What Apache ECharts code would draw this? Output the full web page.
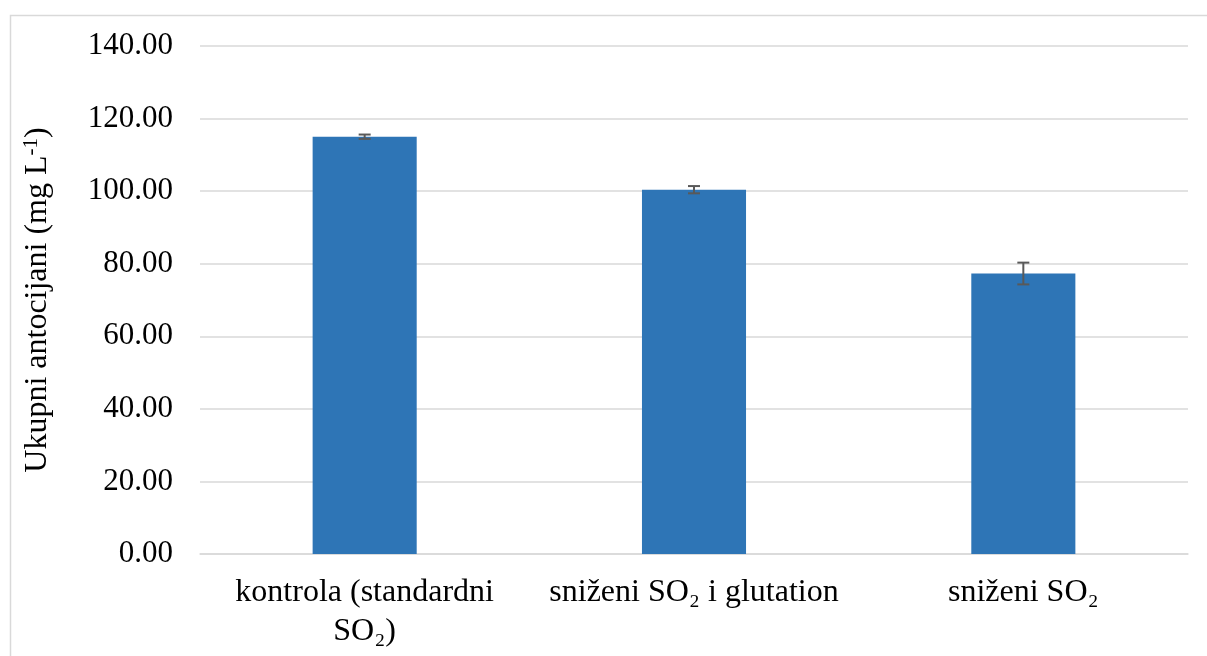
<!DOCTYPE html>
<html>
<head>
<meta charset="utf-8">
<script src="https://cdn.jsdelivr.net/npm/echarts@6/dist/echarts.min.js"></script>
<style>
html,body{margin:0;padding:0;background:#fff;}
#c{width:1207px;height:656px;}
</style>
</head>
<body>
<div id="c"></div>
<script>
const categories = ['kontrola (standardni\nSO₂)', 'sniženi SO₂ i glutation', 'sniženi SO₂'];
const values = [115.0, 100.4, 77.3];
const errors = [0.6, 1.0, 3.0];
const yTicks = [0, 20, 40, 60, 80, 100, 120, 140];

const chart = echarts.init(document.getElementById('c'));
const font = '"Liberation Serif", "Times New Roman", serif';
chart.setOption({
  animation: false,
  backgroundColor: '#fff',
  graphic: [{
    type: 'rect', left: 8, top: 13,
    shape: {width: 1230, height: 700},
    style: {fill: 'none', stroke: '#d9d9d9', lineWidth: 1.5}
  }],
  grid: {left: 200, right: 19, top: 46, bottom: 102},
  xAxis: {
    type: 'category',
    data: categories,
    axisLine: {lineStyle: {color: '#d9d9d9', width: 1.5}},
    axisTick: {show: false},
    axisLabel: {
      color: '#000', fontFamily: font, fontSize: 32, lineHeight: 39, margin: 19, interval: 0
    }
  },
  yAxis: {
    type: 'value',
    min: yTicks[0], max: yTicks[yTicks.length - 1], interval: 20,
    name: '{n|Ukupni antocijani (mg L}{s|-1}{n|)}',
    nameLocation: 'middle',
    nameGap: 146,
    nameRotate: 90,
    nameTextStyle: {
      rich: {
        n: {fontFamily: font, fontSize: 32, color: '#000'},
        s: {fontFamily: font, fontSize: 21, color: '#000', verticalAlign: 'top', padding: [0,0,12,0]}
      }
    },
    axisLine: {show: false},
    axisTick: {show: false},
    splitLine: {lineStyle: {color: '#d9d9d9', width: 1.5}},
    axisLabel: {
      color: '#000', fontFamily: font, fontSize: 31, margin: 27,
      formatter: v => v.toFixed(2)
    }
  },
  series: [{
    type: 'bar',
    data: values,
    barWidth: '31.6%',
    itemStyle: {color: '#2e75b6'}
  }, {
    type: 'custom',
    data: values.map((v, i) => [i, v - errors[i], v + errors[i]]),
    renderItem: function (params, api) {
      const lo = api.coord([api.value(0), api.value(1)]);
      const hi = api.coord([api.value(0), api.value(2)]);
      const x = lo[0], hw = 6;
      const st = {stroke: '#595959', lineWidth: 2, fill: 'none'};
      return {type: 'group', children: [
        {type: 'line', shape: {x1: x, y1: lo[1], x2: x, y2: hi[1]}, style: st},
        {type: 'line', shape: {x1: x - hw, y1: lo[1], x2: x + hw, y2: lo[1]}, style: st},
        {type: 'line', shape: {x1: x - hw, y1: hi[1], x2: x + hw, y2: hi[1]}, style: st}
      ]};
    },
    z: 10
  }]
});
</script>
</body>
</html>
